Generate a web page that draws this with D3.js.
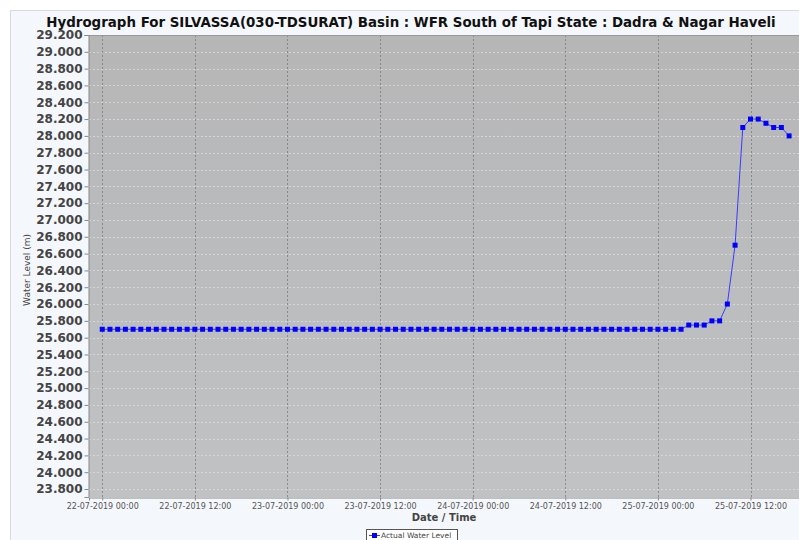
<!DOCTYPE html>
<html>
<head>
<meta charset="utf-8">
<script src="https://cdn.jsdelivr.net/npm/d3@7"></script>
<style>
  html, body { margin: 0; padding: 0; background: #ffffff; }
  svg { display: block; }
  text { font-family: "DejaVu Sans", sans-serif; }
</style>
</head>
<body>
<svg id="chart" width="799" height="540"></svg>
<script>
// ---------------- data ----------------
const chartTitle = "Hydrograph For SILVASSA(030-TDSURAT) Basin : WFR South of Tapi State : Dadra & Nagar Haveli";
const yAxisTitle = "Water Level (m)";
const xAxisTitle = "Date / Time";
const seriesName = "Actual Water Level";

// hourly observations starting 22-07-2019 00:00
const startTime = "2019-07-22T00:00:00Z";
const stepHours = 1;
const waterLevel = [
  25.70, 25.70, 25.70, 25.70, 25.70, 25.70, 25.70, 25.70, 25.70, 25.70, 25.70, 25.70,
  25.70, 25.70, 25.70, 25.70, 25.70, 25.70, 25.70, 25.70, 25.70, 25.70, 25.70, 25.70,
  25.70, 25.70, 25.70, 25.70, 25.70, 25.70, 25.70, 25.70, 25.70, 25.70, 25.70, 25.70,
  25.70, 25.70, 25.70, 25.70, 25.70, 25.70, 25.70, 25.70, 25.70, 25.70, 25.70, 25.70,
  25.70, 25.70, 25.70, 25.70, 25.70, 25.70, 25.70, 25.70, 25.70, 25.70, 25.70, 25.70,
  25.70, 25.70, 25.70, 25.70, 25.70, 25.70, 25.70, 25.70, 25.70, 25.70, 25.70, 25.70,
  25.70, 25.70, 25.70, 25.70, 25.75, 25.75, 25.75, 25.80, 25.80, 26.00, 26.70, 28.10,
  28.20, 28.20, 28.15, 28.10, 28.10, 28.00
];

const yTickValues = [23.8, 24.0, 24.2, 24.4, 24.6, 24.8, 25.0, 25.2, 25.4, 25.6, 25.8, 26.0,
  26.2, 26.4, 26.6, 26.8, 27.0, 27.2, 27.4, 27.6, 27.8, 28.0, 28.2, 28.4, 28.6, 28.8, 29.0, 29.2];
const xTickLabels = ["22-07-2019 00:00", "22-07-2019 12:00", "23-07-2019 00:00", "23-07-2019 12:00",
  "24-07-2019 00:00", "24-07-2019 12:00", "25-07-2019 00:00", "25-07-2019 12:00"];
const xTickTimes = ["2019-07-22T00:00:00Z", "2019-07-22T12:00:00Z", "2019-07-23T00:00:00Z", "2019-07-23T12:00:00Z",
  "2019-07-24T00:00:00Z", "2019-07-24T12:00:00Z", "2019-07-25T00:00:00Z", "2019-07-25T12:00:00Z"];
const xDomain = ["2019-07-21T22:17:00Z", "2019-07-25T18:17:00Z"];
const yDomain = [23.705, 29.2];

// ---------------- layout ----------------
const W = 799, H = 540;
const plot = { left: 89, top: 35, right: 799, bottom: 497 };

const svg = d3.select("#chart");

const t0 = new Date(startTime).getTime();
const data = waterLevel.map((v, i) => ({ t: new Date(t0 + i * stepHours * 3600000), v }));

const x = d3.scaleUtc().domain(xDomain.map(d => new Date(d))).range([plot.left, plot.right]);
const y = d3.scaleLinear().domain(yDomain).range([plot.bottom, plot.top]);

// outer panel
svg.append("rect").attr("x", 10.5).attr("y", 10.5).attr("width", W).attr("height", H)
  .attr("fill", "#f4f7fb").attr("stroke", "#d6dade");

// plot background
const defs = svg.append("defs");
const grad = defs.append("linearGradient").attr("id", "bg").attr("x1", 0).attr("y1", 0).attr("x2", 0).attr("y2", 1);
grad.append("stop").attr("offset", "0%").attr("stop-color", "#b6b6b7");
grad.append("stop").attr("offset", "100%").attr("stop-color", "#c0c2c4");
svg.append("rect").attr("x", plot.left).attr("y", plot.top)
  .attr("width", plot.right - plot.left).attr("height", plot.bottom - plot.top)
  .attr("fill", "url(#bg)");

// horizontal grid
svg.append("g").selectAll("line").data(yTickValues).join("line")
  .attr("x1", plot.left).attr("x2", plot.right)
  .attr("y1", d => Math.round(y(d)) + 0.5).attr("y2", d => Math.round(y(d)) + 0.5)
  .attr("stroke", "#dcdcdc").attr("stroke-width", 0.8).attr("stroke-dasharray", "2,2");

// vertical grid
const xTicks = xTickTimes.map(d => new Date(d));
svg.append("g").selectAll("line").data(xTicks).join("line")
  .attr("x1", d => Math.round(x(d)) + 0.5).attr("x2", d => Math.round(x(d)) + 0.5)
  .attr("y1", plot.top).attr("y2", plot.bottom)
  .attr("stroke", "#7c7c7c").attr("stroke-width", 0.8).attr("stroke-dasharray", "2,2");

// plot top border
svg.append("line").attr("x1", plot.left).attr("x2", plot.right)
  .attr("y1", plot.top + 0.5).attr("y2", plot.top + 0.5).attr("stroke", "#999");

// y axis
const yAxis = d3.axisLeft(y).tickValues(yTickValues).tickFormat(d3.format(".3f")).tickSize(4).tickPadding(2);
const gy = svg.append("g").attr("transform", `translate(${plot.left - 0.5},0)`).call(yAxis);
gy.select(".domain").attr("stroke", "#888");
gy.selectAll(".tick line").attr("stroke", "#888");
gy.selectAll(".tick text").attr("font-family", "DejaVu Sans, sans-serif")
  .attr("font-size", 12).attr("font-weight", "bold").attr("fill", "#444");

// x axis
const fmtMap = new Map(xTickTimes.map((d, i) => [new Date(d).getTime(), xTickLabels[i]]));
const xAxis = d3.axisBottom(x).tickValues(xTicks).tickFormat(d => fmtMap.get(d.getTime())).tickSize(3).tickPadding(3);
const gx = svg.append("g").attr("transform", `translate(0,${plot.bottom + 0.5})`).call(xAxis);
gx.select(".domain").attr("stroke", "#888");
gx.selectAll(".tick line").attr("stroke", "#888");
gx.selectAll(".tick text").attr("font-family", "DejaVu Sans, sans-serif")
  .attr("font-size", 8).attr("fill", "#555");

// series line
svg.append("path").datum(data)
  .attr("d", d3.line().x(d => x(d.t)).y(d => y(d.v)))
  .attr("fill", "none").attr("stroke", "#3a3aff").attr("stroke-width", 1);

// markers
svg.append("g").selectAll("rect").data(data).join("rect")
  .attr("x", d => x(d.t) - 2.5).attr("y", d => y(d.v) - 2.5)
  .attr("width", 5).attr("height", 5).attr("fill", "#0000ff");

// title
svg.append("text").attr("x", 411).attr("y", 27).attr("text-anchor", "middle")
  .attr("font-size", 13.4).attr("font-weight", "bold").attr("fill", "#111")
  .text(chartTitle);

// axis titles
svg.append("text").attr("transform", `translate(30,270) rotate(-90)`).attr("text-anchor", "middle")
  .attr("font-size", 9).attr("fill", "#444").text(yAxisTitle);
svg.append("text").attr("x", (plot.left + plot.right) / 2).attr("y", 521).attr("text-anchor", "middle")
  .attr("font-size", 10).attr("font-weight", "bold").attr("fill", "#444").text(xAxisTitle);

// legend
const lg = svg.append("g");
lg.append("rect").attr("x", 366.5).attr("y", 529.5).attr("width", 91).attr("height", 14)
  .attr("fill", "#ffffff").attr("stroke", "#555");
lg.append("line").attr("x1", 369).attr("x2", 380).attr("y1", 535.5).attr("y2", 535.5)
  .attr("stroke", "#3a3aff").attr("stroke-width", 1);
lg.append("rect").attr("x", 372).attr("y", 533).attr("width", 5).attr("height", 5).attr("fill", "#0000ff");
lg.append("text").attr("x", 381).attr("y", 538).attr("font-size", 7.5).attr("fill", "#444").text(seriesName);
</script>
</body>
</html>
